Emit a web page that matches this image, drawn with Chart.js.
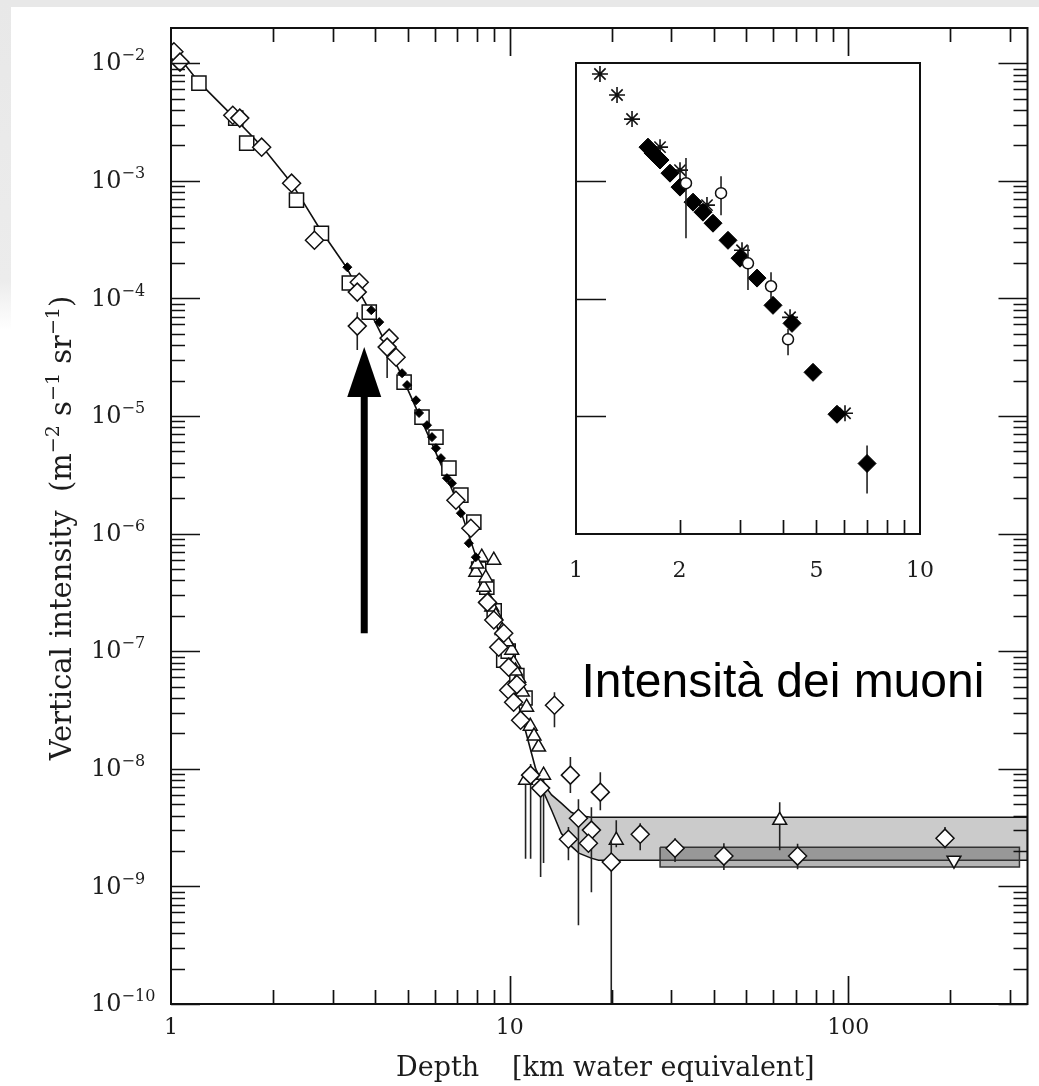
<!DOCTYPE html>
<html>
<head>
<meta charset="utf-8">
<title>Vertical muon intensity vs depth</title>
<script src="https://cdn.jsdelivr.net/npm/chart.js"></script>
<style>
  body { margin: 0; background: #ffffff; }
  #topband { position: absolute; left: 0; top: 0; width: 1039px; height: 7px; background: #e8e8e8; }
  #leftband { position: absolute; left: 0; top: 0; width: 11px; height: 330px;
              background: linear-gradient(to bottom, #e8e8e8 0%, #ececec 85%, #ffffff 100%); }
  #main { position: absolute; left: 0; top: 0; }
  #inset { position: absolute; left: 540px; top: 40px; }
</style>
</head>
<body>
<div id="topband"></div>
<div id="leftband"></div>
<canvas id="main" width="1039" height="1086"></canvas>
<canvas id="inset" width="420" height="560"></canvas>

<script>
// ---- main plot data (depth in km w.e., intensity in m^-2 s^-1 sr^-1) ----
const fitDepth = [1.0, 1.209, 1.512, 1.865, 2.27, 2.743, 3.294, 3.849, 4.716, 5.779, 7.079, 8.385, 9.603, 10.63, 11.37, 11.93];
const fitIntensity = [1.37e-2, 6.89e-3, 3.61e-3, 1.93e-3, 9.54e-4, 3.95e-4, 1.84e-4, 7.94e-5, 2.45e-5, 6.61e-6, 1.74e-6, 4.02e-7, 1.02e-7, 3.47e-8, 1.68e-8, 1.0e-8];

const bandDepth = [11.93, 12.6, 13.3, 14.2, 15.2, 16.0, 17.4, 18.3, 338];
const bandUpper = [1.0e-8, 7.4e-9, 6.0e-9, 5.1e-9, 4.27e-9, 4.0e-9, 3.87e-9, 3.87e-9, 3.87e-9];
const bandLower = [1.0e-8, 6.3e-9, 4.44e-9, 2.83e-9, 2.2e-9, 1.92e-9, 1.74e-9, 1.67e-9, 1.67e-9];

const darkDepth = [27.8, 320];
const darkUpper = [2.15e-9, 2.15e-9];
const darkLower = [1.46e-9, 1.46e-9];

const diamondDepth = [1.02, 1.063, 1.522, 1.596, 1.852, 2.27, 2.652, 3.596, 3.548, 3.548, 4.407, 4.347, 4.62,
  6.938, 7.679, 8.975, 9.603, 9.282, 9.933, 9.933, 10.27, 10.77, 13.56, 11.53, 12.34, 15.11, 18.52,
  15.96, 14.91, 17.43, 17.08, 19.95, 24.29, 30.78, 42.9, 70.8, 192.9, 8.6, 10.5];
const diamondIntensity = [1.25e-2, 1.02e-2, 3.61e-3, 3.41e-3, 1.93e-3, 9.54e-4, 3.12e-4, 1.37e-4, 1.13e-4, 5.81e-5, 4.59e-5, 3.85e-5, 3.16e-5,
  1.92e-6, 1.11e-6, 1.84e-7, 1.42e-7, 1.08e-7, 7.31e-8, 4.66e-8, 3.68e-8, 2.59e-8, 3.47e-8, 8.83e-9, 6.85e-9, 8.83e-9, 6.33e-9,
  3.80e-9, 2.52e-9, 3.01e-9, 2.33e-9, 1.61e-9, 2.78e-9, 2.11e-9, 1.81e-9, 1.81e-9, 2.57e-9, 2.6e-7, 5.2e-8];
const diamondErrLo = [null, null, null, null, null, null, null, null, null, 3.63e-5, null, 2.10e-5, null,
  null, null, null, null, null, null, null, null, null, 2.26e-8, 1.72e-9, 1.2e-9, 6.21e-9, 4.44e-9,
  4.68e-10, 1.67e-9, 8.93e-10, null, 1.0e-10, 2.03e-9, 1.61e-9, 1.38e-9, 1.4e-9, 2.1e-9, null, null];
const diamondErrHi = [null, null, null, null, null, null, null, null, null, 7.63e-5, null, 4.6e-5, null,
  null, null, null, null, null, null, null, null, null, 4.48e-8, 1.1e-8, 8.0e-9, 1.26e-8, 9.35e-9,
  5.5e-9, 3.2e-9, 4.71e-9, null, 2.47e-9, 3.45e-9, 2.57e-9, 2.33e-9, 2.3e-9, 3.2e-9, null, null];

const squareDepth = [1.209, 1.553, 1.673, 2.347, 2.781, 3.361, 3.849, 4.878, 5.51, 6.058, 6.616, 7.176, 7.836, 8.56, 9.603,
  8.1, 9.0, 9.9, 10.5, 11.1];
const squareIntensity = [6.76e-3, 3.41e-3, 2.09e-3, 6.84e-4, 3.58e-4, 1.35e-4, 7.63e-5, 1.94e-5, 9.77e-6, 6.61e-6, 3.60e-6, 2.12e-6, 1.25e-6, 3.5e-7, 8.38e-8,
  5.0e-7, 2.2e-7, 1.0e-7, 6.2e-8, 4.0e-8];

const dotDepth = [3.316, 3.902, 4.119, 4.812, 4.978, 5.29, 5.40, 5.70, 5.896, 6.058, 6.267, 6.527, 6.752, 7.176, 7.575, 7.943];
const dotIntensity = [1.84e-4, 7.94e-5, 6.28e-5, 2.31e-5, 1.83e-5, 1.36e-5, 1.06e-5, 8.35e-6, 6.61e-6, 5.32e-6, 4.38e-6, 2.96e-6, 2.68e-6, 1.49e-6, 8.28e-7, 6.30e-7];

const triDepth = [7.943, 8.27, 8.975, 8.385, 8.675, 8.854, 10.14, 10.27, 10.63, 11.22, 12.17, 11.14, 12.59, 20.64, 62.7,
  8.0, 8.5, 9.1, 9.5, 9.8, 10.4, 10.9, 11.5, 11.8];
const triIntensity = [4.70e-7, 6.3e-7, 5.94e-7, 3.50e-7, 2.71e-7, 2.37e-7, 1.02e-7, 7.91e-8, 5.89e-8, 3.34e-8, 1.53e-8, 8.0e-9, 8.83e-9, 2.47e-9, 3.65e-9,
  5.5e-7, 4.2e-7, 2.0e-7, 1.5e-7, 1.2e-7, 6.8e-8, 4.5e-8, 2.3e-8, 1.9e-8];
const triErrLo = [null, null, null, null, null, null, null, null, null, null, null, 1.72e-9, 1.58e-9, 2.15e-9, 2.03e-9,
  null, null, null, null, null, null, null, null, null];
const triErrHi = [null, null, null, null, null, null, null, null, null, null, null, 8.0e-9, 8.83e-9, 3.65e-9, 5.2e-9,
  null, null, null, null, null, null, null, null, null];

const invDepth = [205];
const invIntensity = [1.67e-9];

// arrow and caption, in data units
const arrowDepth = 3.72, arrowTip = 3.85e-5, arrowTail = 1.42e-7;
const captionDepth = 16.29, captionIntensity = 4.06e-8;
const caption = 'Intensità dei muoni';

// ---- inset data ----
const starDepth = [1.174, 1.316, 1.455, 1.755, 2.006, 2.403, 3.038, 4.19, 6.053];
const starIntensity = [8.06e-3, 5.35e-3, 3.34e-3, 1.93e-3, 1.23e-3, 6.21e-4, 2.57e-4, 6.92e-5, 1.06e-5];

const fdDepth = [1.619, 1.674, 1.755, 1.876, 2.006, 2.189, 2.34, 2.502, 2.766, 2.998, 3.359, 3.738, 4.246, 4.887, 5.737, 7.016];
const fdIntensity = [1.93e-3, 1.72e-3, 1.50e-3, 1.16e-3, 8.83e-4, 6.58e-4, 5.41e-4, 4.36e-4, 3.12e-4, 2.20e-4, 1.49e-4, 8.75e-5, 6.15e-5, 2.36e-5, 1.04e-5, 3.97e-6];
const fdErrLo = [null, null, null, null, null, null, null, null, null, null, null, null, null, null, null, 2.21e-6];
const fdErrHi = [null, null, null, null, null, null, null, null, null, null, null, null, null, null, null, 5.65e-6];

const circDepth = [2.088, 2.64, 3.162, 3.689, 4.134];
const circIntensity = [9.54e-4, 7.85e-4, 1.99e-4, 1.27e-4, 4.50e-5];
const circErrLo = [3.25e-4, 5.10e-4, 1.18e-4, 1.0e-4, 3.29e-5];
const circErrHi = [1.56e-3, 1.09e-3, 2.83e-4, 1.67e-4, 5.5e-5];

const mainXLabels = [1, 10, 100];
const insetXLabels = [1, 2, 5, 10];

// ---- helpers ----
const SERIF = '"DejaVu Serif", serif';
const INK = '#1c1c1c';

function pts(xs, ys) { return xs.map((x, i) => ({ x: x, y: ys[i] })); }
function polygon(xs, up, lo) {
  const p = pts(xs, up);
  for (let i = xs.length - 1; i >= 0; i--) p.push({ x: xs[i], y: lo[i] });
  p.push({ x: xs[0], y: up[0] });
  return p;
}
function logTicks(minExp, maxExp, maxVal) {
  const major = [], minor = [];
  for (let e = minExp; e <= maxExp; e++) {
    const d = Math.pow(10, e);
    major.push(d);
    for (let m = 2; m <= 9; m++) if (m * d <= maxVal) minor.push(m * d);
  }
  return { major, minor };
}

const errorBars = {
  id: 'errorBars',
  beforeDatasetDraw(chart, args) {
    const ds = chart.data.datasets[args.index];
    if (!ds.errLo) return;
    const { ctx, chartArea: a, scales: { x, y } } = chart;
    ctx.save();
    ctx.beginPath();
    ctx.rect(a.left, a.top, a.right - a.left, a.bottom - a.top);
    ctx.clip();
    ctx.strokeStyle = '#222';
    ctx.lineWidth = 1.6;
    ctx.beginPath();
    ds.data.forEach((p, i) => {
      const lo = ds.errLo[i], hi = ds.errHi[i];
      if (lo == null || hi == null) return;
      const px = x.getPixelForValue(p.x);
      ctx.moveTo(px, y.getPixelForValue(lo));
      ctx.lineTo(px, y.getPixelForValue(hi));
    });
    ctx.stroke();
    ctx.restore();
  }
};

const frameTicks = {
  id: 'frameTicks',
  afterDraw(chart, args, o) {
    const { ctx, chartArea: a, scales: { x, y } } = chart;
    ctx.save();
    ctx.strokeStyle = '#111';
    ctx.lineWidth = 1.7;
    ctx.beginPath();
    const xt = (list, len) => list.forEach(v => {
      const px = Math.round(x.getPixelForValue(v)) + 0.5;
      if (o.bottom) { ctx.moveTo(px, a.bottom); ctx.lineTo(px, a.bottom - len); }
      if (o.top) { ctx.moveTo(px, a.top); ctx.lineTo(px, a.top + len); }
    });
    const yt = (list, len) => list.forEach(v => {
      const py = Math.round(y.getPixelForValue(v)) + 0.5;
      if (o.left) { ctx.moveTo(a.left, py); ctx.lineTo(a.left + len, py); }
      if (o.right) { ctx.moveTo(a.right, py); ctx.lineTo(a.right - len, py); }
    });
    xt(o.xMajor, o.majorLen); xt(o.xMinor, o.minorLen);
    yt(o.yMajor, o.yMajorLen || o.majorLen); yt(o.yMinor, o.minorLen);
    ctx.stroke();
    ctx.lineWidth = 2;
    ctx.strokeRect(a.left, a.top, a.right - a.left, a.bottom - a.top);
    ctx.restore();
  }
};

function drawParts(ctx, parts, x, y, size, supSize, raise) {
  let cx = x;
  parts.forEach(p => {
    ctx.font = (p.sup ? supSize : size) + 'px ' + SERIF;
    ctx.fillText(p.t, cx, p.sup ? y - raise : y);
    cx += ctx.measureText(p.t).width;
  });
  return cx - x;
}
function partsWidth(ctx, parts, size, supSize) {
  let w = 0;
  parts.forEach(p => { ctx.font = (p.sup ? supSize : size) + 'px ' + SERIF; w += ctx.measureText(p.t).width; });
  return w;
}

const mainText = {
  id: 'mainText',
  afterDatasetsDraw(chart) {
    const { ctx, scales: { x, y } } = chart;
    ctx.save();
    // arrow
    const ax = x.getPixelForValue(arrowDepth);
    const tip = y.getPixelForValue(arrowTip), tail = y.getPixelForValue(arrowTail);
    ctx.fillStyle = '#000';
    ctx.fillRect(ax - 3.5, tip + 48, 7, tail - tip - 48);
    ctx.beginPath();
    ctx.moveTo(ax, tip);
    ctx.lineTo(ax + 17, tip + 50);
    ctx.lineTo(ax - 17, tip + 50);
    ctx.closePath();
    ctx.fill();
    // caption
    ctx.font = '48px "Liberation Sans", Arial, sans-serif';
    ctx.textBaseline = 'alphabetic';
    ctx.fillText(caption, x.getPixelForValue(captionDepth), y.getPixelForValue(captionIntensity));
    ctx.restore();
  },
  afterDraw(chart) {
    const { ctx, scales: { x, y } } = chart;
    ctx.save();
    ctx.fillStyle = INK;
    ctx.textBaseline = 'middle';
    // y tick labels 10^e
    for (let e = -10; e <= -2; e++) {
      const py = y.getPixelForValue(Math.pow(10, e));
      ctx.textAlign = 'left';
      drawParts(ctx, [{ t: '10' }, { t: '\u2212' + (-e), sup: true }], 91, py + 1, 24, 16, 8);
    }
    // x tick labels
    ctx.textAlign = 'center';
    ctx.font = '22px ' + SERIF;
    mainXLabels.forEach(v => ctx.fillText(String(v), x.getPixelForValue(v), 1028));
    // x title
    ctx.textAlign = 'left';
    ctx.textBaseline = 'alphabetic';
    ctx.font = '27px ' + SERIF;
    ctx.fillText('Depth', 396, 1076);
    ctx.fillText('[km water equivalent]', 512, 1076);
    // y title, rotated
    const parts = [{ t: 'Vertical intensity  (m' }, { t: '\u22122', sup: true }, { t: ' s' }, { t: '\u22121', sup: true },
                   { t: ' sr' }, { t: '\u22121', sup: true }, { t: ')' }];
    ctx.translate(71, 528);
    ctx.rotate(-Math.PI / 2);
    const w = partsWidth(ctx, parts, 29, 19);
    drawParts(ctx, parts, -w / 2, 0, 29, 19, 12);
    ctx.restore();
  }
};

const insetText = {
  id: 'insetText',
  beforeDraw(chart) {
    const { ctx, chartArea: a } = chart;
    ctx.save();
    ctx.fillStyle = '#fff';
    ctx.fillRect(a.left, a.top, a.right - a.left, a.bottom - a.top);
    ctx.restore();
  },
  afterDraw(chart) {
    const { ctx, scales: { x } } = chart;
    ctx.save();
    ctx.fillStyle = INK;
    ctx.textAlign = 'center';
    ctx.textBaseline = 'middle';
    ctx.font = '22px ' + SERIF;
    insetXLabels.forEach(v => ctx.fillText(String(v), x.getPixelForValue(v), 531));
    ctx.restore();
  }
};

const yMain = logTicks(-10, -2, 1.99e-2);
const xMain = logTicks(0, 2, 338);

const open = { backgroundColor: '#fff', borderColor: '#111', borderWidth: 1.5 };

new Chart(document.getElementById('main'), {
  type: 'scatter',
  data: {
    datasets: [
      { data: pts(dotDepth, dotIntensity), pointStyle: 'rectRot', pointRadius: 4.5,
        backgroundColor: '#000', borderColor: '#000', borderWidth: 1, order: 1 },
      Object.assign({ data: pts(diamondDepth, diamondIntensity), errLo: diamondErrLo, errHi: diamondErrHi,
        pointStyle: 'rectRot', pointRadius: 9, order: 2 }, open),
      Object.assign({ data: pts(triDepth, triIntensity), errLo: triErrLo, errHi: triErrHi,
        pointStyle: 'triangle', pointRadius: 8, order: 3 }, open),
      Object.assign({ data: pts(invDepth, invIntensity), pointStyle: 'triangle', rotation: 180,
        pointRadius: 8, order: 3 }, open),
      Object.assign({ data: pts(squareDepth, squareIntensity), pointStyle: 'rect', pointRadius: 10, order: 4 }, open),
      { data: pts(fitDepth, fitIntensity), showLine: true, pointRadius: 0, borderColor: '#111',
        borderWidth: 1.6, fill: false, order: 7 },
      { data: polygon(darkDepth, darkUpper, darkLower), showLine: true, pointRadius: 0, borderColor: '#333',
        borderWidth: 1.5, backgroundColor: 'rgba(90,90,90,0.45)', fill: 'shape', order: 8 },
      { data: polygon(bandDepth, bandUpper, bandLower), showLine: true, pointRadius: 0, borderColor: '#111',
        borderWidth: 1.5, backgroundColor: '#cbcbcb', fill: 'shape', order: 9 }
    ]
  },
  options: {
    responsive: false,
    animation: false,
    layout: { padding: { left: 171, right: 8, top: 28, bottom: 82 } },
    scales: {
      x: { type: 'logarithmic', min: 1, max: 338, display: false },
      y: { type: 'logarithmic', min: 1e-10, max: 1.99e-2, display: false }
    },
    plugins: {
      legend: { display: false },
      tooltip: { enabled: false },
      frameTicks: { top: true, bottom: true, left: true, right: true, majorLen: 28, yMajorLen: 29, minorLen: 14,
        xMajor: [10, 100], xMinor: xMain.minor, yMajor: yMain.major, yMinor: yMain.minor }
    }
  },
  plugins: [errorBars, frameTicks, mainText]
});

const yInset = logTicks(-5, -3, 1e-2);
new Chart(document.getElementById('inset'), {
  type: 'scatter',
  data: {
    datasets: [
      Object.assign({ data: pts(circDepth, circIntensity), errLo: circErrLo, errHi: circErrHi,
        pointStyle: 'circle', pointRadius: 5.5, order: 1 }, open),
      { data: pts(fdDepth, fdIntensity), errLo: fdErrLo, errHi: fdErrHi, pointStyle: 'rectRot', pointRadius: 9,
        backgroundColor: '#000', borderColor: '#000', borderWidth: 1, order: 2 },
      { data: pts(starDepth, starIntensity), pointStyle: 'star', pointRadius: 8,
        borderColor: '#111', borderWidth: 1.6, order: 3 }
    ]
  },
  options: {
    responsive: false,
    animation: false,
    layout: { padding: { left: 36, right: 40, top: 23, bottom: 66 } },
    scales: {
      x: { type: 'logarithmic', min: 1, max: 10, display: false },
      y: { type: 'logarithmic', min: 1e-6, max: 1e-2, display: false }
    },
    plugins: {
      legend: { display: false },
      tooltip: { enabled: false },
      frameTicks: { left: true, bottom: true, majorLen: 30, minorLen: 14,
        xMajor: [], xMinor: [2, 3, 4, 5, 6, 7, 8, 9], yMajor: yInset.major, yMinor: [] }
    }
  },
  plugins: [insetText, errorBars, frameTicks]
});
</script>
</body>
</html>
